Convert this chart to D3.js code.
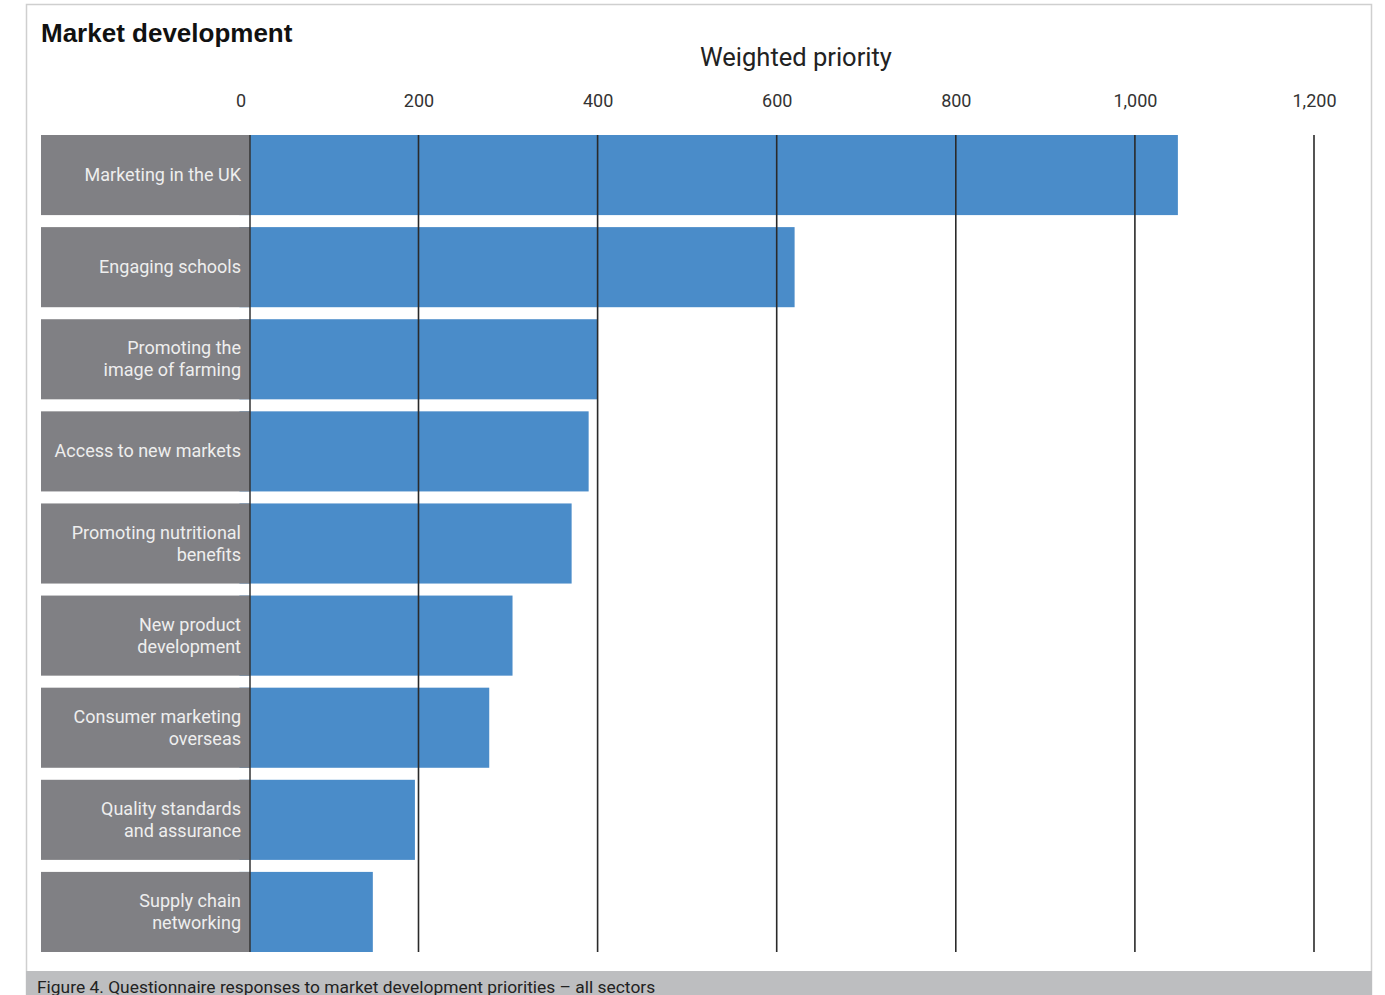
<!DOCTYPE html>
<html>
<head>
<meta charset="utf-8">
<script src="https://cdn.jsdelivr.net/npm/d3@7"></script>
<style>
  body { margin: 0; background: #fff; }
  svg { display: block; font-family: Roboto, "Liberation Sans", sans-serif; }
</style>
</head>
<body>
<div class="chart"></div>
<script>
// Chart data
var categories = [
    ["Marketing in the UK"],
    ["Engaging schools"],
    ["Promoting the", "image of farming"],
    ["Access to new markets"],
    ["Promoting nutritional", "benefits"],
    ["New product", "development"],
    ["Consumer marketing", "overseas"],
    ["Quality standards", "and assurance"],
    ["Supply chain", "networking"]
];
var values = [1048, 620, 400, 390, 371, 305, 279, 196, 149];
var tickValues = [0, 200, 400, 600, 800, 1000, 1200];

var width = 1385;
var height = 995;

var x = d3.scaleLinear()
    .domain([0, 1200])
    .range([239.4, 1314]);

var y = d3.scaleBand()
    .domain(d3.range(categories.length))
    .range([135, 952])
    .paddingInner(12 / 92)
    .paddingOuter(0);

var svg = d3.select(".chart")
    .append("svg")
    .attr("width", width)
    .attr("height", height);

// Frame and caption band
svg.append("rect")
    .attr("x", 26.5).attr("y", 4.5)
    .attr("width", 1345).attr("height", 1000)
    .attr("fill", "none")
    .attr("stroke", "#cfcfcf")
    .attr("stroke-width", 1.5);

svg.append("rect")
    .attr("x", 26).attr("y", 971)
    .attr("width", 1346).attr("height", 30)
    .attr("fill", "#bdbec0");

svg.append("text")
    .attr("x", 37).attr("y", 993)
    .attr("font-size", 17.4)
    .attr("fill", "#222")
    .text("Figure 4. Questionnaire responses to market development priorities \u2013 all sectors");

// Titles
svg.append("text")
    .attr("x", 41).attr("y", 42)
    .attr("font-size", 26)
    .attr("font-family", "'Liberation Sans', Arial, sans-serif")
    .attr("font-weight", "bold")
    .attr("fill", "#111")
    .text("Market development");

svg.append("text")
    .attr("x", 796).attr("y", 66)
    .attr("text-anchor", "middle")
    .attr("font-size", 25.5)
    .attr("fill", "#222")
    .text("Weighted priority");

// Bars
svg.append("g")
    .selectAll("rect")
    .data(values)
    .enter().append("rect")
        .attr("x", x(0))
        .attr("y", function(d, i) { return y(i); })
        .attr("width", function(d) { return x(d) - x(0); })
        .attr("height", y.bandwidth())
        .attr("fill", "#4a8cc9");

// Category label boxes sit over the start of the bars
var labels = svg.append("g")
    .selectAll("g")
    .data(categories)
    .enter().append("g");

labels.append("rect")
    .attr("x", 41)
    .attr("y", function(d, i) { return y(i); })
    .attr("width", 250 - 41)
    .attr("height", y.bandwidth())
    .attr("fill", "#808084");

labels.append("text")
    .attr("text-anchor", "end")
    .attr("font-size", 18)
    .attr("fill", "#eeeeee")
    .each(function(d, i) {
        var cy = y(i) + y.bandwidth() / 2;
        var lineH = 22;
        var first = cy + 6 - (d.length - 1) * lineH / 2;
        d3.select(this).selectAll("tspan")
            .data(d)
            .enter().append("tspan")
                .attr("x", 241)
                .attr("y", function(t, j) { return first + j * lineH; })
                .text(function(t) { return t; });
    });

// Vertical grid lines drawn on top
svg.append("line")
    .attr("x1", 250).attr("x2", 250)
    .attr("y1", 135).attr("y2", 952)
    .attr("stroke", "#333")
    .attr("stroke-width", 1.5);

svg.append("g")
    .selectAll("line")
    .data(tickValues.slice(1))
    .enter().append("line")
        .attr("x1", function(d) { return x(d); })
        .attr("x2", function(d) { return x(d); })
        .attr("y1", 135)
        .attr("y2", 952)
        .attr("stroke", "#2a2a2a")
        .attr("stroke-width", 1.6);

// Top axis labels
var axis = d3.axisTop(x)
    .tickValues(tickValues)
    .tickSize(0)
    .tickPadding(0)
    .tickFormat(d3.format(","));

var axisG = svg.append("g")
    .attr("transform", "translate(0,107)")
    .call(axis);

axisG.select(".domain").remove();
axisG.selectAll("text")
    .attr("font-size", 18)
    .attr("font-family", "Roboto, sans-serif")
    .attr("fill", "#333")
    .attr("dy", 0);
axisG.selectAll(".tick")
    .filter(function(d) { return d === 0; })
    .attr("transform", "translate(241,0)");
</script>
</body>
</html>
